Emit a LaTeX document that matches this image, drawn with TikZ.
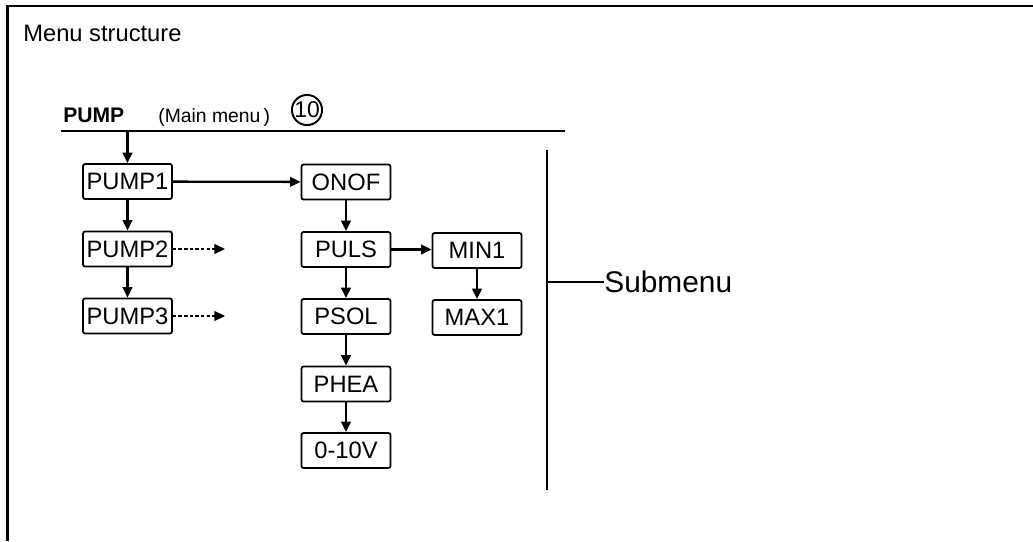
\documentclass[tikz,border=0pt]{standalone}
\usepackage{fontspec}
\setmainfont{Liberation Sans}
\usetikzlibrary{arrows.meta,positioning,calc}

\begin{document}
\begin{tikzpicture}[
  x=0.02cm,y=-0.02cm,
  menubox/.style={draw,rounded corners=1.2pt,line width=1pt,minimum width=1.78cm,minimum height=0.7cm,inner sep=0pt,font=\fontsize{13.5}{15}\selectfont},
  link/.style={line width=1.3pt,-{Triangle[length=6pt,width=5.5pt]}},
  dlink/.style={line width=1pt,dash pattern=on 2pt off 1.2pt,-{Triangle[length=6pt,width=5.5pt]}}]
  \useasboundingbox(0,0)rectangle(1033,541);
  \draw[line width=1.6pt](7.5,541)--(7.5,6)--(1033,6);
  \node[anchor=base west,inner sep=0pt,font=\fontsize{13.5}{16}\selectfont](title) at(23,41){Menu structure};
  % main menu line
  \node[anchor=base west,inner sep=0pt,font=\fontsize{12}{15}\selectfont\bfseries](main) at(63,122){PUMP};
  \node[anchor=base west,inner sep=0pt,font=\fontsize{11}{13}\selectfont](mainlbl) at(158,122){(Main menu\,)};
  \node[circle,draw,line width=1.1pt,minimum size=0.6cm,inner sep=0pt,font=\fontsize{13}{14}\selectfont](num) at(307,110){10};
  \coordinate(la) at(61,131);\coordinate(lb) at(565,131);\coordinate(top) at(127.5,131);
  \draw[line width=1.1pt](la)--(lb);
  % boxes
  \node[menubox](pumpa) at(127.5,181.5){PUMP1};
  \node[menubox](pumpb) at(127.5,249){PUMP2};
  \node[menubox](pumpc) at(127.5,316){PUMP3};
  \node[menubox](onof) at(346,182){ONOF};
  \node[menubox](puls) at(346,249.5){PULS};
  \node[menubox](psol) at(346,316.5){PSOL};
  \node[menubox](phea) at(346,384){PHEA};
  \node[menubox](volt) at(346,450.5){0-10V};
  \node[menubox](mina) at(477,250.5){MIN1};
  \node[menubox](maxa) at(477,317.5){MAX1};
  \coordinate(pbend) at(225,249);\coordinate(pcend) at(225,316);
  \draw[link](top)--(pumpa);\draw[link](pumpa)--(pumpb);\draw[link](pumpb)--(pumpc);
  \draw[link](pumpa)--(onof);
  \draw[dlink](pumpb.east)--(pbend);\draw[dlink](pumpc.east)--(pcend);
  \draw[link](onof)--(puls);\draw[link](puls)--(psol);\draw[link](psol)--(phea);\draw[link](phea)--(volt);
  \draw[link](puls.east)--(puls.east-|mina.west);\draw[link](mina)--(maxa);
  % submenu bracket
  \coordinate(sa) at(547,150);\coordinate(sb) at(547,490);\coordinate(sm) at(547,282);
  \node[anchor=west,inner sep=0pt,font=\fontsize{17}{19}\selectfont](sub) at(604,282){Submenu};
  \draw[line width=1.3pt](sa)--(sb);\draw[line width=1.3pt](sm)--(sub.west);
\end{tikzpicture}
\end{document}
